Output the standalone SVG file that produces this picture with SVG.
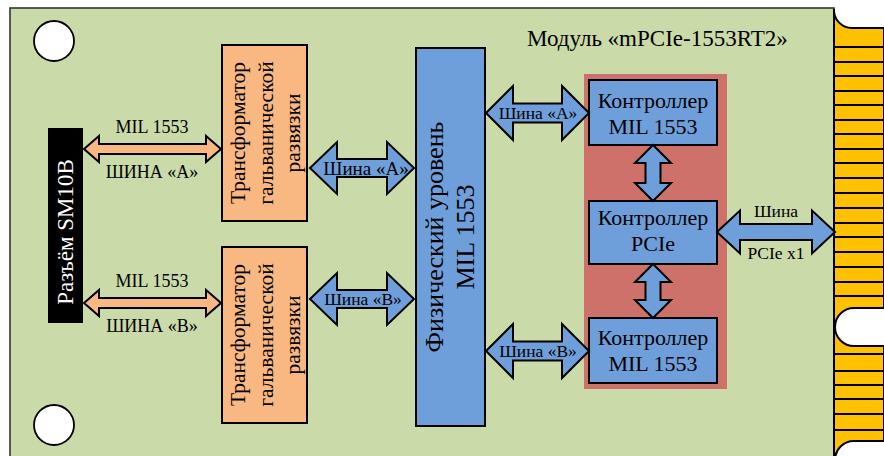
<svg xmlns="http://www.w3.org/2000/svg" width="884" height="456" viewBox="0 0 884 456" font-family="'Liberation Serif', 'DejaVu Serif', serif">
<style>
text{fill:#000;dominant-baseline:central;text-anchor:middle}
.ln{stroke:#000;stroke-width:2;fill:none}
.or{fill:#F9B881;stroke:#000;stroke-width:2}
.bl{fill:#6F9FDA;stroke:#000;stroke-width:2}
.hole{fill:#fff;stroke:#000;stroke-width:1.8}
</style>
<rect width="884" height="456" fill="#fff"/>
<g id="board">
<rect x="10" y="8" width="824" height="470" fill="#CBDAA9" stroke="#333" stroke-width="1.6"/>
<circle class="hole" cx="54" cy="41" r="20"/>
<circle class="hole" cx="54" cy="425" r="20"/>
<text x="527" y="38" font-size="23" style="text-anchor:start">Модуль «mPCIe-1553RT2»</text>
</g>
<g id="edge-connector">
<path d="M834,9 A18,18 0 0 0 852,28 H884 V470 H834 Z" fill="#FFC000" stroke="#000" stroke-width="2"/>
<path class="ln" d="M835,47H884M835,62H884M835,76H884M835,91H884M835,105H884M835,120H884M835,134H884M835,149H884M835,163H884M835,178H884M835,193H884M835,208H884M835,223H884M835,237H884M835,252H884M835,267H884M835,282H884M835,296H884M835,354H884M835,371H884M835,385H884M835,399H884M835,414H884M835,430H884"/>
<path d="M886,308 H854 A19,19 0 0 0 854,346 H886 Z" fill="#fff" stroke="#000" stroke-width="2"/>
<path d="M886,441 H854 A19,19 0 0 0 854,479 H886 Z" fill="#fff" stroke="#000" stroke-width="2"/>
</g>
<g id="sm10b">
<rect x="48" y="128" width="35" height="195" fill="#000"/>
<text transform="translate(65.5,232) rotate(-90)" font-size="23" style="fill:#fff">Разъём SM10B</text>
</g>
<g id="transformer-a">
<rect x="222" y="45" width="85" height="176" class="or"/>
<text transform="translate(265.5,133) rotate(-90)" font-size="21.5"><tspan x="0" y="-27.5">Трансформатор</tspan><tspan x="0" y="0">гальванической</tspan><tspan x="0" y="27.5">развязки</tspan></text>
</g>
<g id="transformer-b">
<rect x="222" y="247" width="85" height="176" class="or"/>
<text transform="translate(265.5,335) rotate(-90)" font-size="21.5"><tspan x="0" y="-27.5">Трансформатор</tspan><tspan x="0" y="0">гальванической</tspan><tspan x="0" y="27.5">развязки</tspan></text>
</g>
<g id="phy">
<rect x="416" y="48" width="69" height="378" class="bl"/>
<text transform="translate(450,237) rotate(-90)" font-size="26"><tspan x="0" y="-16">Физический уровень</tspan><tspan x="0" y="15">MIL 1553</tspan></text>
</g>
<g id="controller-area">
<rect x="584" y="74" width="143" height="315" fill="#CD716A"/>
</g>
<g id="ctrl-a">
<rect x="589" y="80" width="128" height="65" class="bl"/>
<text x="653" y="100" font-size="22">Контроллер</text>
<text x="653" y="126" font-size="22">MIL 1553</text>
</g>
<g id="ctrl-pcie">
<rect x="589" y="201" width="128" height="63" class="bl"/>
<text x="653" y="217" font-size="22">Контроллер</text>
<text x="653" y="243" font-size="22">PCIe</text>
</g>
<g id="ctrl-b">
<rect x="589" y="318" width="128" height="65" class="bl"/>
<text x="653" y="337" font-size="22">Контроллер</text>
<text x="653" y="363" font-size="22">MIL 1553</text>
</g>
<g id="connectors">
<polygon class="or" points="84,149 99,136 99,144 206,144 206,136 221,149 206,162 206,154 99,154 99,162"/>
<polygon class="or" points="84,303 99,290 99,298 206,298 206,290 221,303 206,316 206,308 99,308 99,316"/>
<polygon class="bl" points="310,168 337,142 337,159 387,159 387,142 414,168 387,194 387,177 337,177 337,194"/>
<polygon class="bl" points="310,299 337,273 337,290 387,290 387,273 414,299 387,325 387,308 337,308 337,325"/>
<polygon class="bl" points="486,113 513,86 513,103.5 562,103.5 562,86 589,113 562,140 562,122.5 513,122.5 513,140"/>
<polygon class="bl" points="486,351 513,324 513,341.5 562,341.5 562,324 589,351 562,378 562,360.5 513,360.5 513,378"/>
<polygon class="bl" points="717,232 740,210.5 740,224 812,224 812,210.5 835,232 812,253.5 812,240 740,240 740,253.5"/>
<polygon class="bl" points="653,145 671,163 660.5,163 660.5,183 671,183 653,201 635,183 645.5,183 645.5,163 635,163"/>
<polygon class="bl" points="653,264 671,282 660.5,282 660.5,300 671,300 653,318 635,300 645.5,300 645.5,282 635,282"/>
<text x="152" y="127" font-size="18">MIL 1553</text>
<text x="152" y="172" font-size="18">ШИНА «А»</text>
<text x="152" y="281" font-size="18">MIL 1553</text>
<text x="152" y="326" font-size="18">ШИНА «В»</text>
<text x="366" y="168" font-size="19">Шина «А»</text>
<text x="363" y="299" font-size="17.5">Шина «В»</text>
<text x="538" y="113" font-size="17.5">Шина «А»</text>
<text x="538" y="351" font-size="17.5">Шина «В»</text>
<text x="776" y="211" font-size="17.5">Шина</text>
<text x="776" y="253" font-size="17.5">PCIe x1</text>
</g>
</svg>
